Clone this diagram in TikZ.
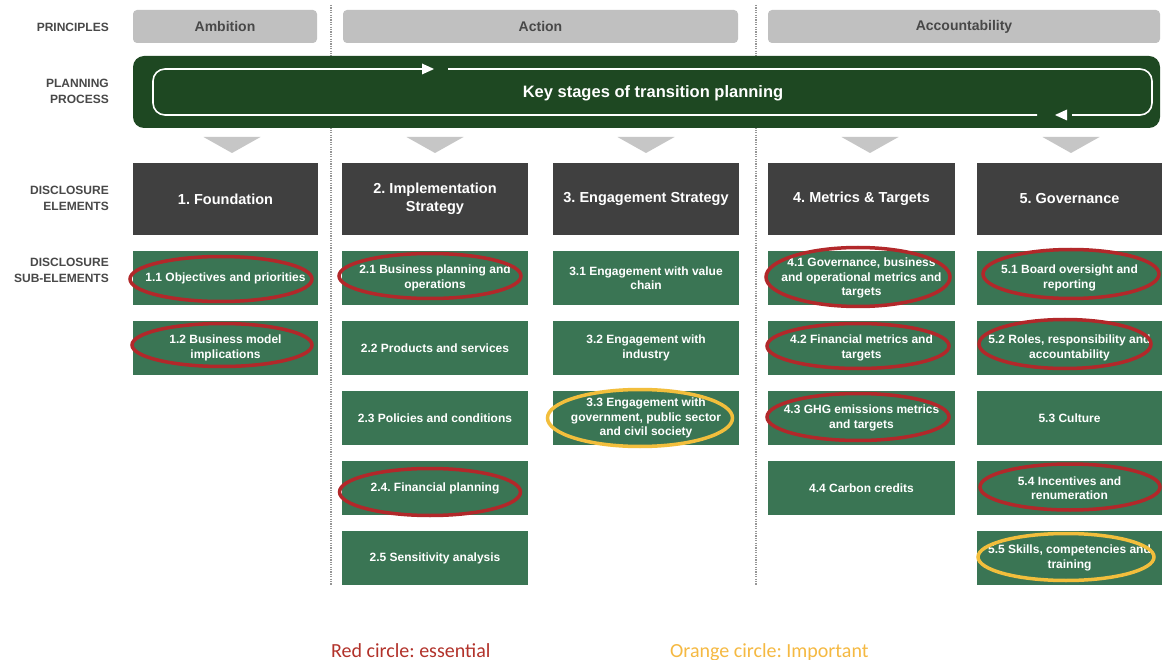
\documentclass[tikz,border=0pt]{standalone}
\usepackage{fontspec}
\setmainfont{Liberation Sans}
\newfontfamily\legendfont{Carlito}
\usetikzlibrary{shapes.geometric}
\frenchspacing
\definecolor{gboxc}{RGB}{58,117,84}
\definecolor{dboxc}{RGB}{64,64,64}
\definecolor{bannerc}{RGB}{30,72,34}
\definecolor{pgray}{RGB}{192,192,192}
\definecolor{chevc}{RGB}{198,198,198}
\definecolor{labc}{RGB}{72,72,72}
\definecolor{ringred}{RGB}{178,40,42}
\definecolor{ringorg}{RGB}{242,190,60}
\definecolor{legred}{RGB}{178,50,42}
\definecolor{legorg}{RGB}{245,185,66}
\definecolor{dotc}{RGB}{150,150,150}
\begin{document}
\frenchspacing
\begin{tikzpicture}[x=1pt,y=-1pt,
  sidelabel/.style={anchor=east, align=right, text=labc, inner sep=0,
    font=\bfseries\fontsize{12}{15.5}\selectfont},
  princ/.style={fill=pgray, rounded corners=4, minimum height=33, inner sep=0,
    text=labc, font=\bfseries\fontsize{14}{16}\selectfont},
  elem/.style={fill=dboxc, minimum width=186, minimum height=72, inner sep=0,
    text=white, align=center, font=\bfseries\fontsize{14.5}{18}\selectfont},
  subbox/.style={fill=gboxc, minimum width=186, minimum height=54, inner sep=0,
    text=white, align=center, font=\bfseries\fontsize{12}{14.5}\selectfont},
  redring/.style={ellipse, draw=ringred, line width=3.5, inner sep=0},
  orgring/.style={ellipse, draw=ringorg, line width=3.5, inner sep=0},
  divider/.style={dotc, line width=1.2, dash pattern=on 1.2pt off 1.2pt},
  loopline/.style={white, line width=1.6, rounded corners=12},
  legend/.style={anchor=base west, inner sep=0, font=\legendfont\fontsize{20}{24}\selectfont}
]
\useasboundingbox (0,0) rectangle (1162,660);
\fill[white] (0,0) rectangle (1162,660);

% dividers
\draw[divider] (331,5) -- (331,585);
\draw[divider] (756,5) -- (756,585);

% side labels
\node[sidelabel] (lprin) at (109,27) {PRINCIPLES};
\node[sidelabel] (lplan) at (109,91.5) {PLANNING\\PROCESS};
\node[sidelabel] (lelem) at (109,198.5) {DISCLOSURE\\ELEMENTS};
\node[sidelabel] (lsub) at (109,270.5) {DISCLOSURE\\SUB-ELEMENTS};

% principles
\node[princ, minimum width=184] (pamb) at (225,26.5) {Ambition};
\node[princ, minimum width=395] (pact) at (540.5,26.5) {Action};
\node[princ, minimum width=392] (pacc) at (964,26.5) {Accountability};

% banner
\fill[bannerc, rounded corners=11] (133,56) rectangle (1160,128);
\coordinate (tl) at (153,69);
\coordinate (br) at (1152,115);
\draw[loopline] (425,69) -- (153,69) -- (153,115) -- (1037,115);
\draw[loopline] (448,69) -- (1152,69) -- (1152,115) -- (1072,115);
\fill[white] (422,63.5) -- (434,69) -- (422,74.5) -- cycle;
\fill[white] (1067,109.5) -- (1055,115) -- (1067,120.5) -- cycle;
\node[text=white, font=\bfseries\fontsize{16.5}{20}\selectfont] (btitle) at (653,93) {Key stages of transition planning};

% chevrons
\foreach \cx in {232,435,646,870,1071}
  \fill[chevc] (\cx-28.5,137) -- (\cx+28.5,137) -- (\cx,153) -- cycle;

% elements
\node[elem, minimum width=185] (el1) at (225.5,199) {1. Foundation};
\node[elem] (el2) at (435,199) {2. Implementation\\Strategy};
\node[elem] (el3) at (646,199) {3. Engagement Strategy};
\node[elem, minimum width=187] (el4) at (861.5,199) {4. Metrics \& Targets};
\node[elem, minimum width=185] (el5) at (1069.5,199) {5. Governance};

% sub-elements
\node[subbox, minimum width=185] (s11) at (225.5,278) {1.1 Objectives and priorities};
\node[subbox, minimum width=185] (s12) at (225.5,348) {1.2 Business model\\implications};

\node[subbox] (s21) at (435,278) {2.1 Business planning and\\operations};
\node[subbox] (s22) at (435,348) {2.2 Products and services};
\node[subbox] (s23) at (435,418) {2.3 Policies and conditions};
\node[subbox] (s24) at (435,488) {2.4. Financial planning};
\node[subbox] (s25) at (435,558) {2.5 Sensitivity analysis};

\node[subbox] (s31) at (646,278) {3.1 Engagement with value\\chain};
\node[subbox] (s32) at (646,348) {3.2 Engagement with\\industry};
\node[subbox] (s33) at (646,418) {3.3 Engagement with\\government, public sector\\and civil society};

\node[subbox, minimum width=187] (s41) at (861.5,278) {4.1 Governance, business\\and operational metrics and\\targets};
\node[subbox, minimum width=187] (s42) at (861.5,348) {4.2 Financial metrics and\\targets};
\node[subbox, minimum width=187] (s43) at (861.5,418) {4.3 GHG emissions metrics\\and targets};
\node[subbox, minimum width=187] (s44) at (861.5,488) {4.4 Carbon credits};

\node[subbox, minimum width=185] (s51) at (1069.5,278) {5.1 Board oversight and\\reporting};
\node[subbox, minimum width=185] (s52) at (1069.5,348) {5.2 Roles, responsibility and\\accountability};
\node[subbox, minimum width=185] (s53) at (1069.5,418) {5.3 Culture};
\node[subbox, minimum width=185] (s54) at (1069.5,488) {5.4 Incentives and\\renumeration};
\node[subbox, minimum width=185] (s55) at (1069.5,558) {5.5 Skills, competencies and\\training};

% rings
\node[redring, minimum width=182, minimum height=45] (e11) at (221,279) {};
\node[redring, minimum width=180, minimum height=43] (e12) at (222,345) {};
\node[redring, minimum width=182, minimum height=45] (e21) at (430,276) {};
\node[redring, minimum width=181, minimum height=47] (e24) at (430,492) {};
\node[orgring, minimum width=185, minimum height=57] (e33) at (640,418) {};
\node[redring, minimum width=184, minimum height=59] (e41) at (858,277) {};
\node[redring, minimum width=182, minimum height=45] (e42) at (858,346) {};
\node[redring, minimum width=182, minimum height=47] (e43) at (858,417) {};
\node[redring, minimum width=176, minimum height=49] (e51) at (1071,274) {};
\node[redring, minimum width=172, minimum height=49] (e52) at (1065,344) {};
\node[redring, minimum width=180, minimum height=46] (e54) at (1070,487) {};
\node[orgring, minimum width=176, minimum height=47] (e55) at (1066,557) {};

% legend
\node[legend, text=legred] (legr) at (331,657) {Red circle: essential};
\node[legend, text=legorg] (lego) at (670,657) {Orange circle: Important};
\end{tikzpicture}
\end{document}
